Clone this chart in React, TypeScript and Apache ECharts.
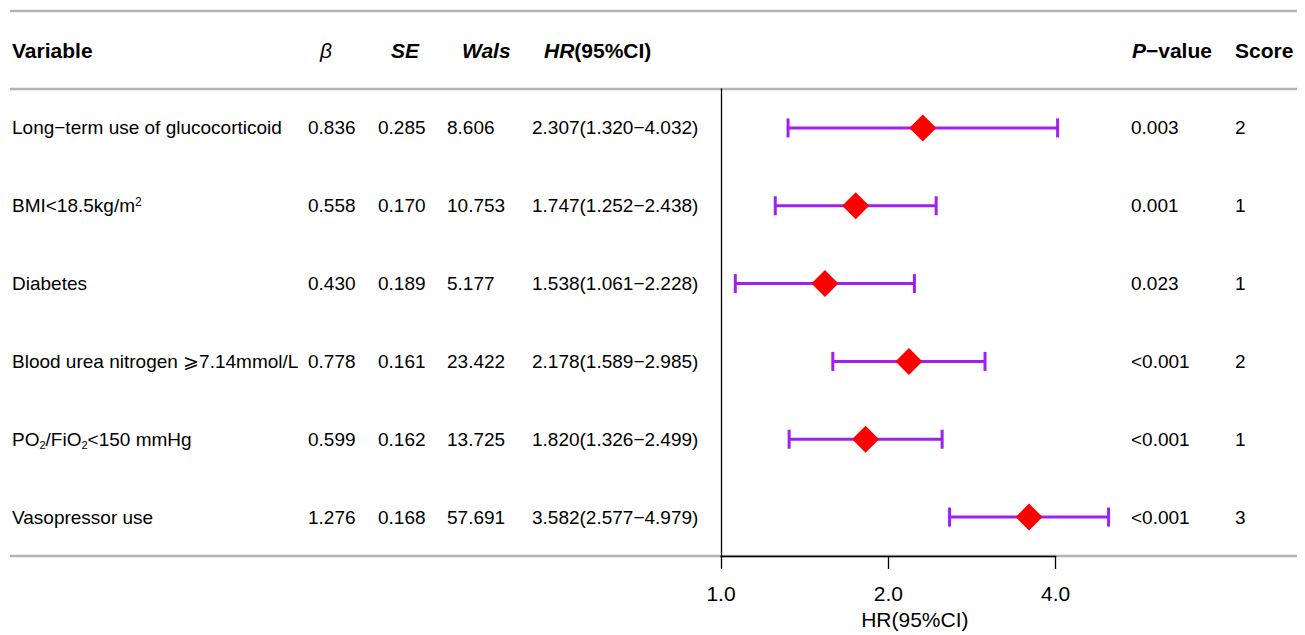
import React, { useEffect, useRef } from 'react';
import * as echarts from 'echarts';

// ---- data ----
const variables = [
  '{n|Long−term use of glucocorticoid}',
  '{n|BMI<18.5kg/m}{sup|2}',
  '{n|Diabetes}',
  '{n|Blood urea nitrogen ⩾7.14mmol/L}',
  '{n|PO}{sub|2}{n|/FiO}{sub|2}{n|<150 mmHg}',
  '{n|Vasopressor use}',
];
const beta = ['0.836', '0.558', '0.430', '0.778', '0.599', '1.276'];
const se = ['0.285', '0.170', '0.189', '0.161', '0.162', '0.168'];
const wals = ['8.606', '10.753', '5.177', '23.422', '13.725', '57.691'];
const hr = [2.307, 1.747, 1.538, 2.178, 1.82, 3.582];
const lower = [1.32, 1.252, 1.061, 1.589, 1.326, 2.577];
const upper = [4.032, 2.438, 2.228, 2.985, 2.499, 4.979];
const pValues = ['0.003', '0.001', '0.023', '<0.001', '<0.001', '<0.001'];
const scores = ['2', '1', '1', '2', '1', '3'];
const xMin = 1;
const xMax = 4;

const FONT = '"Liberation Sans", Arial, Helvetica, sans-serif';
const W = 1305;
const H = 635;
const GRID_TOP = 89;
const GRID_BOTTOM = 556;
const GRID_LEFT = 721;
const GRID_RIGHT_X = 1055.7;

export default function App() {
  const ref = useRef<HTMLDivElement>(null);

  useEffect(() => {
    if (!ref.current) return;
    const chart = echarts.init(ref.current, undefined, { renderer: 'svg' });
    const n = variables.length;
    const rowH = (GRID_BOTTOM - GRID_TOP) / n;
    const rowY = (i: number) => GRID_TOP + (i + 0.5) * rowH;

    const dataFont = { fontSize: 19, fontFamily: FONT, fill: '#000' };
    const headerY = 50;

    const graphics: any[] = [];
    // horizontal gray rules
    [11, 89, 556].forEach((y) => {
      graphics.push({
        type: 'line',
        shape: { x1: 10, y1: y, x2: 1297, y2: y },
        style: { stroke: '#b3b3b3', lineWidth: 2.5 },
        z: 0,
      });
    });

    const headerText = (x: number, text: string, rich?: any) => ({
      type: 'text',
      x,
      y: headerY,
      style: {
        text,
        fontSize: 21,
        fontWeight: 'bold',
        fontFamily: FONT,
        fill: '#000',
        align: 'left',
        verticalAlign: 'middle',
        rich,
      },
    });
    const rb = { fontSize: 21, fontWeight: 'bold', fontFamily: FONT, fill: '#000' };
    const ri = { fontSize: 21, fontWeight: 'bold', fontStyle: 'italic', fontFamily: FONT, fill: '#000' };
    graphics.push(headerText(12, 'Variable'));
    graphics.push(headerText(320, '{g|β}', { g: { fontSize: 21, fontStyle: 'italic', fontFamily: FONT, fill: '#000' } }));
    graphics.push(headerText(391, '{i|SE}', { i: ri }));
    graphics.push(headerText(462, '{i|Wals}', { i: ri }));
    graphics.push(headerText(544, '{i|HR}{b|(95%CI)}', { i: ri, b: rb }));
    graphics.push(headerText(1132, '{i|P}{b|−value}', { i: ri, b: rb }));
    graphics.push(headerText(1235, 'Score'));

    const richVar = {
      n: { fontSize: 19, fontFamily: FONT, fill: '#000', lineHeight: 22 },
      sup: { fontSize: 12, fontFamily: FONT, fill: '#000', verticalAlign: 'top', lineHeight: 13, padding: [1, 0, 0, 0] },
      sub: { fontSize: 11, fontFamily: FONT, fill: '#000', verticalAlign: 'bottom', lineHeight: 12, padding: [0, 0, 0, 0] },
    };

    const cells = (x: number, texts: string[], rich?: any) => {
      texts.forEach((t, i) => {
        graphics.push({
          type: 'text',
          x,
          y: rowY(i),
          style: { text: t, ...dataFont, align: 'left', verticalAlign: 'middle', rich },
        });
      });
    };
    cells(12, variables, richVar);
    cells(308, beta);
    cells(378, se);
    cells(447, wals);
    cells(532, hr.map((v, i) => `${v.toFixed(3)}(${lower[i].toFixed(3)}−${upper[i].toFixed(3)})`));
    cells(1131, pValues);
    cells(1235, scores);

    const seriesData = hr.map((v, i) => [lower[i], upper[i], v, i]);

    chart.setOption({
      animation: false,
      grid: {
        left: GRID_LEFT,
        right: W - GRID_RIGHT_X,
        top: GRID_TOP,
        bottom: H - GRID_BOTTOM,
        containLabel: false,
      },
      xAxis: {
        type: 'log',
        logBase: 2,
        min: xMin,
        max: xMax,
        axisLine: { show: true, lineStyle: { color: '#000', width: 1.3 } },
        axisTick: { show: true, length: 13, lineStyle: { color: '#000', width: 1.3 } },
        axisLabel: {
          fontSize: 21,
          fontFamily: FONT,
          color: '#000',
          margin: 27,
          formatter: (v: number) => v.toFixed(1),
        },
        splitLine: { show: false },
        minorTick: { show: false },
        name: 'HR(95%CI)',
        nameLocation: 'middle',
        nameGap: 51,
        nameTextStyle: { fontSize: 21, fontFamily: FONT, color: '#000', padding: [0, 0, 0, 53] },
      },
      yAxis: {
        type: 'category',
        inverse: true,
        data: variables.map((_, i) => String(i)),
        axisLine: { show: true, lineStyle: { color: '#000', width: 1.3 } },
        axisTick: { show: false },
        axisLabel: { show: false },
        splitLine: { show: false },
      },
      series: [
        {
          type: 'custom',
          clip: false,
          data: seriesData,
          encode: { x: [0, 1, 2], y: 3 },
          renderItem: (params: any, api: any) => {
            const lo = api.value(0);
            const hi = api.value(1);
            const mid = api.value(2);
            const idx = api.value(3);
            const pLo = api.coord([lo, idx]);
            const pHi = api.coord([hi, idx]);
            const pM = api.coord([mid, idx]);
            const cap = 9.5;
            const d = 13.5;
            const stroke = { stroke: '#a020f0', lineWidth: 3 };
            return {
              type: 'group',
              children: [
                { type: 'line', shape: { x1: pLo[0], y1: pLo[1], x2: pHi[0], y2: pHi[1] }, style: stroke },
                { type: 'line', shape: { x1: pLo[0], y1: pLo[1] - cap, x2: pLo[0], y2: pLo[1] + cap }, style: stroke },
                { type: 'line', shape: { x1: pHi[0], y1: pHi[1] - cap, x2: pHi[0], y2: pHi[1] + cap }, style: stroke },
                {
                  type: 'polygon',
                  shape: { points: [[pM[0], pM[1] - d], [pM[0] + d, pM[1]], [pM[0], pM[1] + d], [pM[0] - d, pM[1]]] },
                  style: { fill: '#ff0000' },
                },
              ],
            };
          },
        },
      ],
      graphic: graphics,
    });

    return () => chart.dispose();
  }, []);

  return (
    <div
      ref={ref}
      style={{ position: 'fixed', left: 0, top: 0, width: W, height: H, background: '#fff' }}
    />
  );
}
